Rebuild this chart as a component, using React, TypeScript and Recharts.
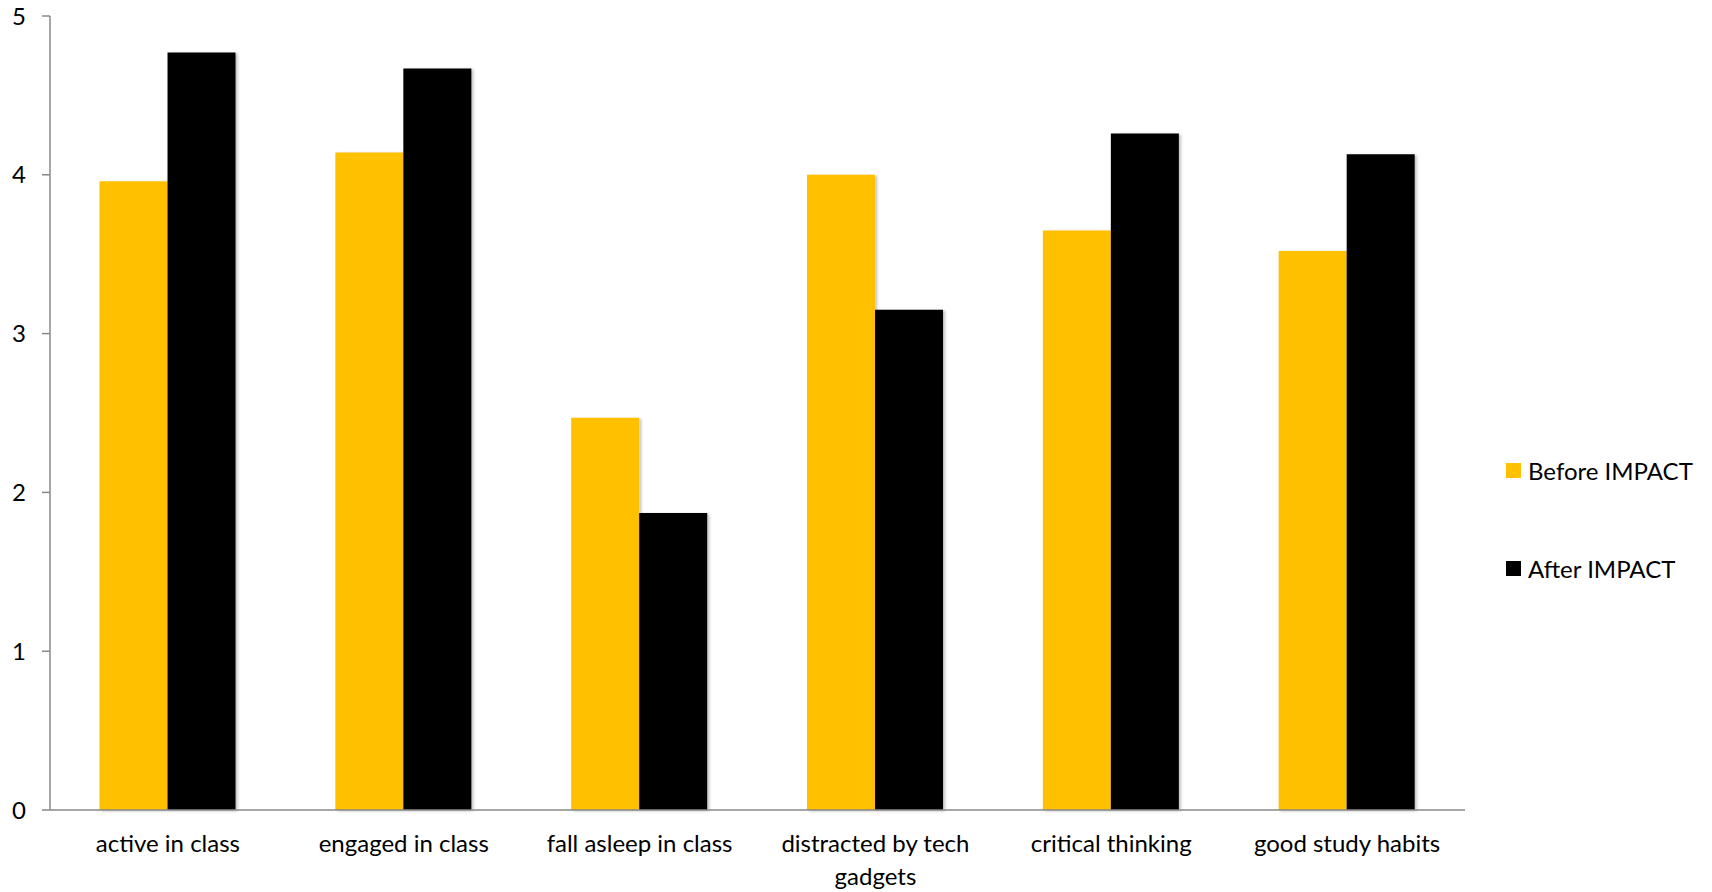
import React from 'react';
import { BarChart, Bar, XAxis, YAxis } from 'recharts';

// Mean survey scores per statement, before and after IMPACT
const categories = [
  'active in class',
  'engaged in class',
  'fall asleep in class',
  'distracted by tech\ngadgets',
  'critical thinking',
  'good study habits',
];
const beforeImpact = [3.96, 4.14, 2.47, 4.0, 3.65, 3.52];
const afterImpact = [4.77, 4.67, 1.87, 3.15, 4.26, 4.13];
const yTicks = [0, 1, 2, 3, 4, 5];
const edgeTicks = [0, 1, 2, 3, 4, 5, 6];

const YELLOW = '#FFC000';
const BLACK = '#000000';
const AXIS = '#888888';
const FONT = 'Lato, "Open Sans", sans-serif';

const data = categories.map((name, i) => ({
  name,
  before: beforeImpact[i],
  after: afterImpact[i],
}));

// category label, one tspan per line
const CategoryTick = (props: any) => {
  const { x, y, payload } = props;
  const lines = String(payload.value).split('\n');
  return (
    <text x={x} y={y} textAnchor="middle" fontSize={24} fontFamily={FONT} fill="#000">
      {lines.map((line, i) => (
        <tspan key={i} x={x} dy={i === 0 ? '0.71em' : 33}>
          {line}
        </tspan>
      ))}
    </text>
  );
};

const legendItems = [
  { label: 'Before IMPACT', color: YELLOW, top: 462 },
  { label: 'After IMPACT', color: BLACK, top: 560 },
];

export default function App() {
  return (
    <div style={{ position: 'absolute', left: 0, top: 0, width: 1712, height: 892, background: '#fff', fontFamily: FONT }}>
      <BarChart
        width={1712}
        height={892}
        data={data}
        margin={{ top: 16, right: 247, bottom: 0, left: 0 }}
        barCategoryGap="21%"
        barGap={0}
      >
        <defs>
          <filter id="barShadow" x="-10%" y="-10%" width="130%" height="130%">
            <feDropShadow dx="2" dy="1" stdDeviation="1.5" floodColor="#000" floodOpacity="0.25" />
          </filter>
        </defs>
        <XAxis
          xAxisId="cat"
          dataKey="name"
          height={81}
          axisLine={false}
          tickLine={false}
          tickSize={0}
          tickMargin={24}
          interval={0}
          tick={<CategoryTick />}
        />
        {/* boundary ticks between categories */}
        <XAxis
          xAxisId="axisEdges"
          type="number"
          domain={[0, 6]}
          ticks={edgeTicks}
          allowDataOverflow
          height={1}
          tick={false}
          tickSize={8}
          stroke={AXIS}
          tickLine={{ stroke: AXIS, strokeWidth: 1.5 }}
          axisLine={{ stroke: AXIS, strokeWidth: 1.5 }}
        />
        <YAxis
          width={50}
          domain={[0, 5]}
          ticks={yTicks}
          interval={0}
          tickSize={8}
          tickMargin={16}
          stroke={AXIS}
          axisLine={{ stroke: AXIS, strokeWidth: 1.5 }}
          tickLine={{ stroke: AXIS, strokeWidth: 1.5 }}
          tick={{ fill: '#000', fontSize: 24, fontFamily: FONT }}
        />
        <Bar xAxisId="cat" dataKey="before" name="Before IMPACT" fill={YELLOW} filter="url(#barShadow)" isAnimationActive={false} />
        <Bar xAxisId="cat" dataKey="after" name="After IMPACT" fill={BLACK} filter="url(#barShadow)" isAnimationActive={false} />
      </BarChart>
      {legendItems.map((item) => (
        <div
          key={item.label}
          style={{ position: 'absolute', left: 1506, top: item.top, display: 'flex', alignItems: 'center', height: 17 }}
        >
          <span style={{ display: 'inline-block', width: 15, height: 15, background: item.color, marginRight: 7 }} />
          <span style={{ fontSize: 24, color: '#000', whiteSpace: 'nowrap', lineHeight: '17px' }}>{item.label}</span>
        </div>
      ))}
    </div>
  );
}
